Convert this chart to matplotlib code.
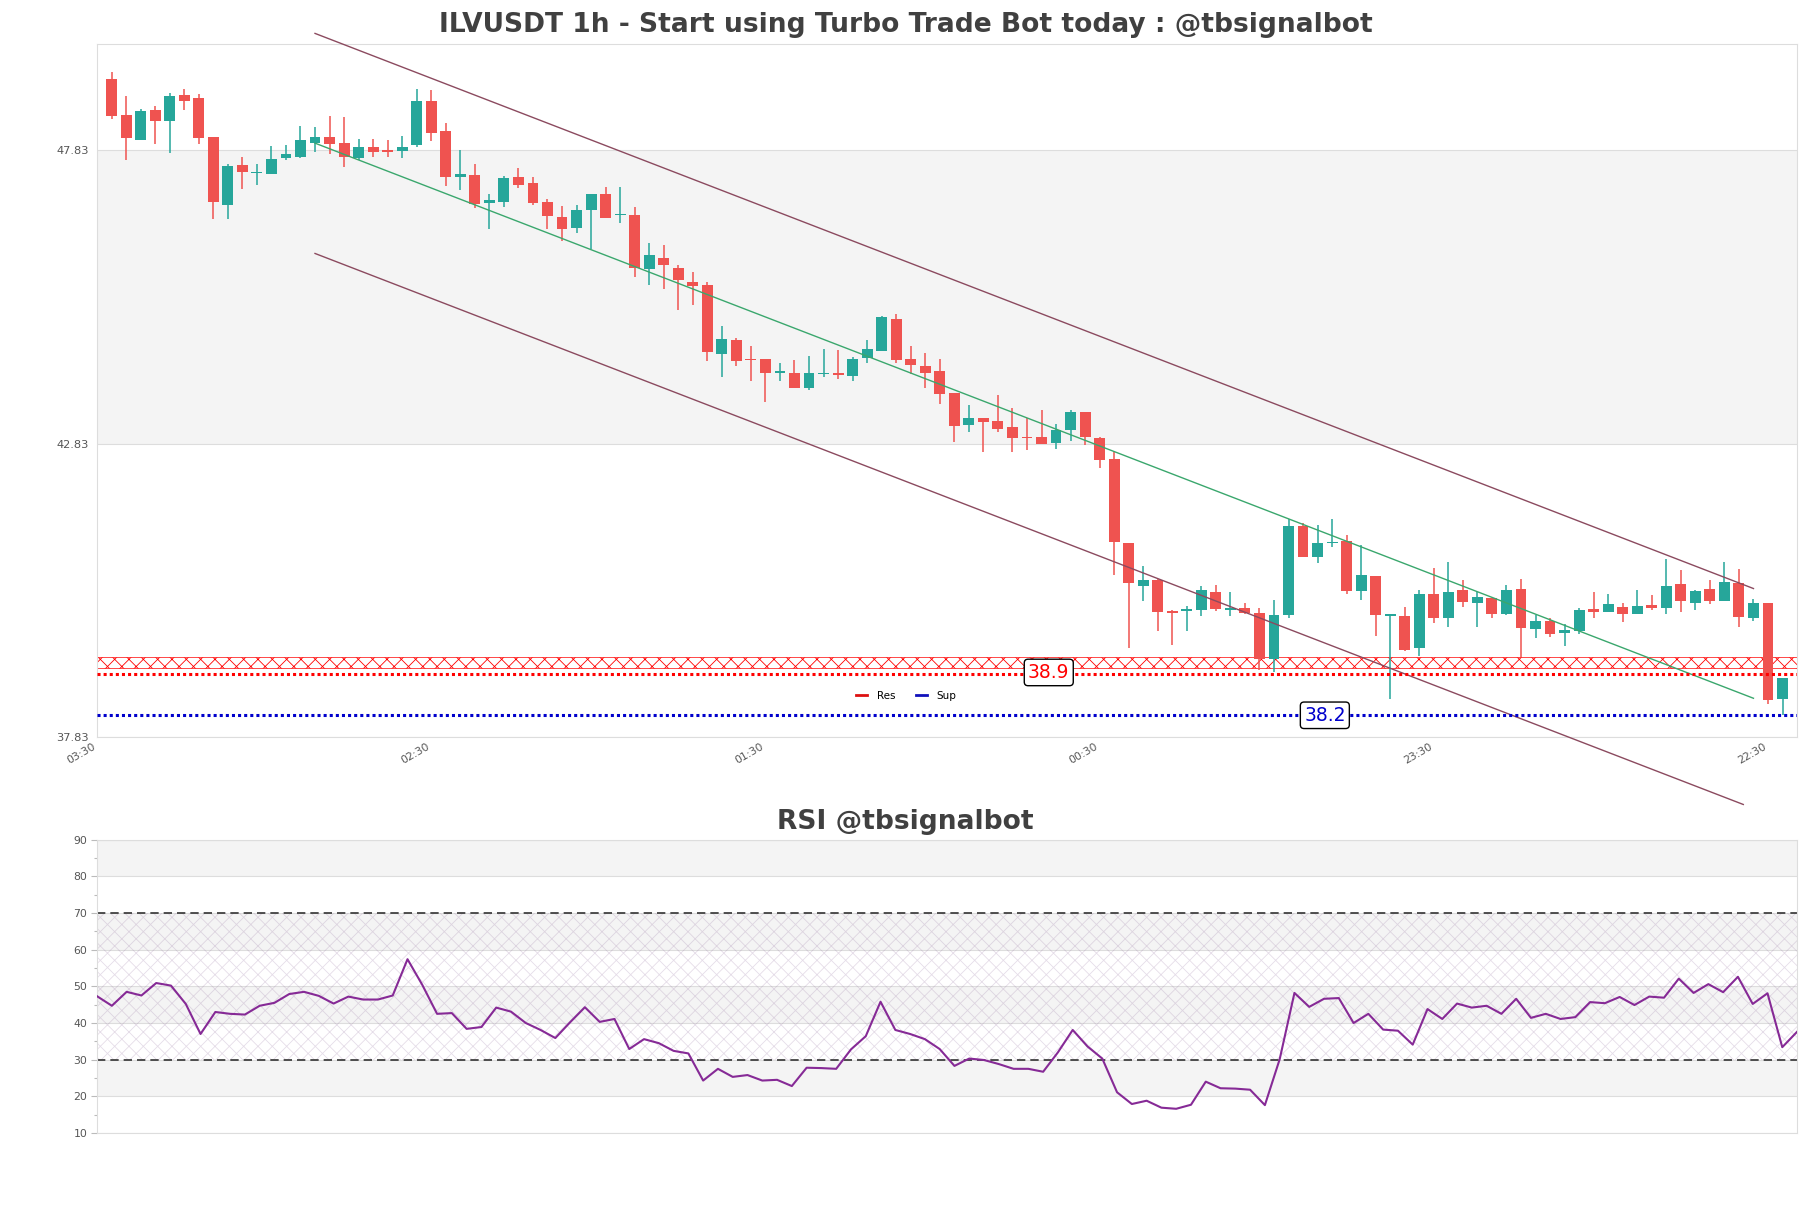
import matplotlib
matplotlib.use('Agg')
import matplotlib.pyplot as plt
from matplotlib.lines import Line2D
import numpy as np

title_main = "ILVUSDT 1h - Start using Turbo Trade Bot today : @tbsignalbot"
title_rsi = "RSI @tbsignalbot"

opens = [49.04, 48.43, 48.01, 48.51, 48.33, 48.77, 48.72, 48.05, 46.90, 47.58,
         47.44, 47.43, 47.69, 47.71, 47.96, 48.05, 47.95, 47.70, 47.88, 47.84,
         47.82, 47.91, 48.67, 48.16, 47.38, 47.41, 46.93, 46.95, 47.38, 47.27,
         46.94, 46.69, 46.51, 46.81, 47.08, 46.73, 46.72, 45.80, 46.00, 45.83,
         45.59, 45.53, 44.36, 44.59, 44.28, 44.27, 44.04, 44.04, 43.78, 44.02,
         44.03, 43.98, 44.29, 44.41, 44.96, 44.27, 44.16, 44.06, 43.69, 43.15,
         43.26, 43.21, 43.11, 42.95, 42.95, 42.84, 43.06, 43.36, 42.92, 42.57,
         41.14, 40.41, 40.50, 39.98, 39.98, 39.99, 40.30, 40.00, 40.03, 39.94,
         39.16, 39.91, 41.42, 40.90, 41.13, 41.17, 40.32, 40.57, 39.90, 39.90,
         39.35, 40.27, 39.86, 40.33, 40.12, 40.20, 39.92, 40.35, 39.67, 39.80,
         39.61, 39.64, 40.01, 39.96, 40.04, 39.93, 40.08, 40.03, 40.44, 40.12,
         40.35, 40.15, 40.45, 39.86, 40.11, 38.48]
highs = [49.16, 48.75, 48.54, 48.58, 48.81, 48.87, 48.79, 48.05, 47.59, 47.71,
         47.59, 47.90, 47.91, 48.24, 48.22, 48.41, 48.39, 48.02, 48.02, 48.00,
         48.08, 48.87, 48.86, 48.29, 47.83, 47.59, 47.09, 47.39, 47.53, 47.38,
         47.00, 46.88, 46.90, 47.09, 47.21, 47.21, 46.86, 46.24, 46.21, 45.88,
         45.75, 45.59, 44.83, 44.63, 44.49, 44.27, 44.20, 44.26, 44.33, 44.44,
         44.42, 44.31, 44.59, 45.00, 45.04, 44.50, 44.37, 44.28, 43.70, 43.49,
         43.26, 43.65, 43.43, 43.27, 43.41, 43.16, 43.41, 43.37, 42.94, 42.69,
         41.14, 40.74, 40.52, 39.99, 40.07, 40.40, 40.42, 40.30, 40.11, 40.02,
         40.16, 41.54, 41.48, 41.44, 41.55, 41.27, 41.10, 40.57, 39.92, 40.04,
         40.33, 40.71, 40.81, 40.50, 40.30, 40.20, 40.42, 40.52, 39.91, 39.86,
         39.76, 40.03, 40.30, 40.27, 40.12, 40.33, 40.25, 40.87, 40.68, 40.33,
         40.50, 40.81, 40.69, 40.18, 40.12, 38.83]
lows = [48.36, 47.67, 48.00, 47.93, 47.78, 48.52, 47.93, 46.66, 46.66, 47.17,
        47.24, 47.43, 47.67, 47.70, 47.80, 47.77, 47.55, 47.66, 47.71, 47.72,
        47.69, 47.89, 47.99, 47.22, 47.15, 46.85, 46.49, 46.87, 47.19, 46.90,
        46.49, 46.28, 46.42, 46.14, 46.67, 46.59, 45.67, 45.53, 45.46, 45.10,
        45.19, 44.24, 43.96, 44.16, 43.90, 43.54, 43.90, 43.77, 43.75, 43.96,
        43.93, 43.90, 44.21, 44.41, 44.21, 44.02, 43.77, 43.51, 42.86, 43.02,
        42.69, 43.02, 42.68, 42.72, 42.82, 42.74, 42.87, 42.80, 42.42, 40.59,
        39.35, 40.15, 39.64, 39.40, 39.64, 39.90, 39.98, 39.90, 39.92, 38.98,
        38.94, 39.86, 40.89, 40.80, 41.06, 40.26, 40.16, 39.55, 38.47, 39.29,
        39.21, 39.78, 39.71, 40.05, 39.71, 39.86, 39.91, 39.20, 39.52, 39.54,
        39.38, 39.58, 39.85, 39.96, 39.79, 39.93, 40.00, 39.93, 39.96, 40.00,
        40.09, 40.15, 39.71, 39.81, 38.39, 38.20]
closes = [48.42, 48.04, 48.50, 48.33, 48.75, 48.66, 48.04, 46.94, 47.56, 47.46,
          47.45, 47.68, 47.76, 48.00, 48.05, 47.94, 47.72, 47.88, 47.80, 47.80,
          47.88, 48.67, 48.13, 47.38, 47.42, 46.92, 46.98, 47.36, 47.24, 46.93,
          46.71, 46.49, 46.81, 47.08, 46.67, 46.74, 45.82, 46.04, 45.87, 45.62,
          45.51, 44.39, 44.61, 44.24, 44.26, 44.04, 44.06, 43.78, 44.03, 44.03,
          44.00, 44.27, 44.44, 44.98, 44.25, 44.17, 44.04, 43.68, 43.13, 43.26,
          43.20, 43.08, 42.93, 42.93, 42.83, 43.07, 43.36, 42.94, 42.55, 41.16,
          40.45, 40.50, 39.96, 39.95, 40.01, 40.33, 40.01, 40.02, 39.94, 39.16,
          39.91, 41.42, 40.90, 41.14, 41.16, 40.32, 40.59, 39.91, 39.91, 39.32,
          40.27, 39.86, 40.30, 40.13, 40.21, 39.93, 40.33, 39.69, 39.80, 39.58,
          39.65, 39.99, 39.96, 40.10, 39.92, 40.07, 40.03, 40.41, 40.14, 40.32,
          40.15, 40.47, 39.88, 40.11, 38.46, 38.83]

rsi = [47.3, 44.7, 48.5, 47.5, 50.9, 50.2, 45.2, 37.0, 43.0, 42.5,
       42.3, 44.7, 45.5, 47.9, 48.5, 47.4, 45.3, 47.2, 46.4, 46.4,
       47.5, 57.4, 50.4, 42.5, 42.7, 38.4, 38.9, 44.2, 43.1, 40.0,
       38.1, 35.9, 40.2, 44.3, 40.3, 41.1, 32.9, 35.6, 34.5, 32.4,
       31.7, 24.3, 27.5, 25.3, 25.8, 24.3, 24.5, 22.8, 27.8, 27.7,
       27.5, 32.8, 36.4, 45.8, 38.1, 37.0, 35.6, 32.9, 28.3, 30.3,
       29.9, 28.8, 27.5, 27.5, 26.7, 32.0, 38.1, 33.6, 30.3, 21.1,
       17.9, 18.8, 16.9, 16.6, 17.7, 24.0, 22.2, 22.1, 21.8, 17.6,
       30.1, 48.2, 44.4, 46.6, 46.8, 40.0, 42.5, 38.2, 37.9, 34.1,
       43.8, 41.1, 45.3, 44.2, 44.7, 42.5, 46.6, 41.4, 42.5, 41.1,
       41.6, 45.7, 45.4, 47.1, 44.9, 47.2, 46.9, 52.1, 48.2, 50.6,
       48.4, 52.6, 45.2, 48.1, 33.4, 37.6]

xtick_pos = [-1, 22, 45, 68, 91, 114]
xtick_labels = ['03:30', '02:30', '01:30', '00:30', '23:30', '22:30']
price_ticks = [37.83, 42.83, 47.83]
price_ylim = [37.83, 49.64]
res_level = 38.9
sup_level = 38.2
res_zone = [39.0, 39.2]
res_label_x = 64.5
sup_label_x = 83.5
trend_x = [14, 113]
trend_mid = [47.95, 38.49]
trend_up = [49.82, 40.36]
trend_low_x = [14, 112.3]
trend_low = [46.07, 36.68]
rsi_ticks = [10, 20, 30, 40, 50, 60, 70, 80, 90]
rsi_minor = [15, 25, 35, 45, 55, 65, 75, 85]
rsi_bands = [20, 40, 60, 80]

GREEN = '#26a69a'
RED = '#ef5350'
GRID = '#dddddd'
BAND = '#f4f4f4'
CHAN = '#8b4a5f'
TXT = '#404040'

DPI = 86.25
S = 100.0 / DPI  # keep pixel sizes as designed for 100 dpi
plt.rcParams['hatch.linewidth'] = 0.7

fig = plt.figure(figsize=(1811 / DPI, 1208 / DPI), dpi=DPI)
ax = fig.add_axes([0.0536, 0.3899, 0.9387, 0.5737])
ax2 = fig.add_axes([0.0536, 0.0621, 0.9387, 0.2428])

# ---- price panel ----
o = np.array(opens); h = np.array(highs); l = np.array(lows); c = np.array(closes)
x = np.arange(len(o))
cols = np.where(c >= o, GREEN, RED)
ax.axhspan(price_ticks[1], price_ticks[2], color=BAND, zorder=0, lw=0)
for t in price_ticks:
    ax.axhline(t, color=GRID, lw=0.8 * S, zorder=1)
ax.axhspan(res_zone[0], res_zone[1], facecolor='none', edgecolor='red',
           hatch='xx', lw=0.5 * S, zorder=2)
ax.vlines(x, l, h, colors=cols, lw=1.1 * S, zorder=3)
ax.bar(x, np.maximum(np.abs(c - o), 0.02), bottom=np.minimum(o, c), width=0.75,
       color=cols, lw=0, zorder=4)

ax.plot(trend_x, trend_up, color=CHAN, lw=1.0 * S, clip_on=False, zorder=5)
ax.plot(trend_low_x, trend_low, color=CHAN, lw=1.0 * S, clip_on=False, zorder=5)
ax.plot(trend_x, trend_mid, color='#3aa76d', lw=1.0 * S, zorder=5)

ax.axhline(res_level, color='red', ls=(0, (1, 1)), lw=2.2 * S, zorder=5)
ax.axhline(sup_level, color='#0000cc', ls=(0, (1, 1)), lw=2.2 * S, zorder=5)
ax.text(res_label_x, res_level + 0.03, f'{res_level}', color='red', fontsize=13.5 * S,
        ha='center', va='center', zorder=7,
        bbox=dict(boxstyle='round,pad=0.2', fc='white', ec='black', lw=1 * S))
ax.text(sup_label_x, sup_level, f'{sup_level}', color='#0000cc', fontsize=13.5 * S,
        ha='center', va='center', zorder=7,
        bbox=dict(boxstyle='round,pad=0.2', fc='white', ec='black', lw=1 * S))

handles = [Line2D([0], [0], color='#dd1111', lw=2 * S), Line2D([0], [0], color='#1111bb', lw=2 * S)]
ax.legend(handles, ['Res', 'Sup'], loc='center', bbox_to_anchor=(0.476, 0.059),
          ncol=2, frameon=False, fontsize=7.5 * S, handlelength=1.1, columnspacing=2.0,
          handletextpad=0.9)

ax.set_xlim(-1, 116)
ax.set_ylim(*price_ylim)
ax.set_yticks(price_ticks)
ax.set_yticklabels([f'{t:.2f}' for t in price_ticks])
ax.set_xticks(xtick_pos)
ax.set_xticklabels(xtick_labels, rotation=30, ha='right')
ax.tick_params(axis='y', length=0, labelsize=8.2 * S, labelcolor='#555555', pad=6 * S)
ax.tick_params(axis='x', length=0, labelsize=7.8 * S, labelcolor='#555555', pad=3 * S)
for s in ax.spines.values():
    s.set_color(GRID)
    s.set_linewidth(0.8 * S)

# ---- RSI panel ----
xr = np.arange(len(rsi))
for b in rsi_bands:
    ax2.axhspan(b, b + 10, color=BAND, lw=0, zorder=0)
for t in rsi_ticks:
    ax2.axhline(t, color=GRID, lw=0.8 * S, zorder=1)
ax2.axhspan(30, 70, facecolor='none', edgecolor=(0.55, 0.4, 0.6, 0.22),
            hatch='xx', lw=0, zorder=1)
ax2.axhline(70, color='#333333', ls=(0, (5, 3)), lw=1.2 * S, zorder=2)
ax2.axhline(30, color='#333333', ls=(0, (5, 3)), lw=1.2 * S, zorder=2)
ax2.plot(xr, rsi, color='#862a96', lw=1.5 * S, zorder=3)
ax2.set_xlim(0, len(rsi) - 1)
ax2.set_ylim(10, 90)
ax2.set_yticks(rsi_ticks)
ax2.set_yticks(rsi_minor, minor=True)
ax2.set_xticks([])
ax2.tick_params(axis='y', which='major', length=4 * S, width=0.8 * S, color='#bbbbbb',
                labelsize=7.8 * S, labelcolor='#555555', pad=3 * S)
ax2.tick_params(axis='y', which='minor', length=2 * S, width=0.8 * S, color='#bbbbbb')
for s in ax2.spines.values():
    s.set_color(GRID)
    s.set_linewidth(0.8 * S)

fig.text(0.5, 1 - 31.7 / 1208, title_main, ha='center', va='baseline',
         fontsize=19.1 * S, fontweight='bold', color=TXT)
fig.text(0.5, 1 - 829 / 1208, title_rsi, ha='center', va='baseline',
         fontsize=19.1 * S, fontweight='bold', color=TXT)

fig.savefig('out.png', dpi=DPI)
